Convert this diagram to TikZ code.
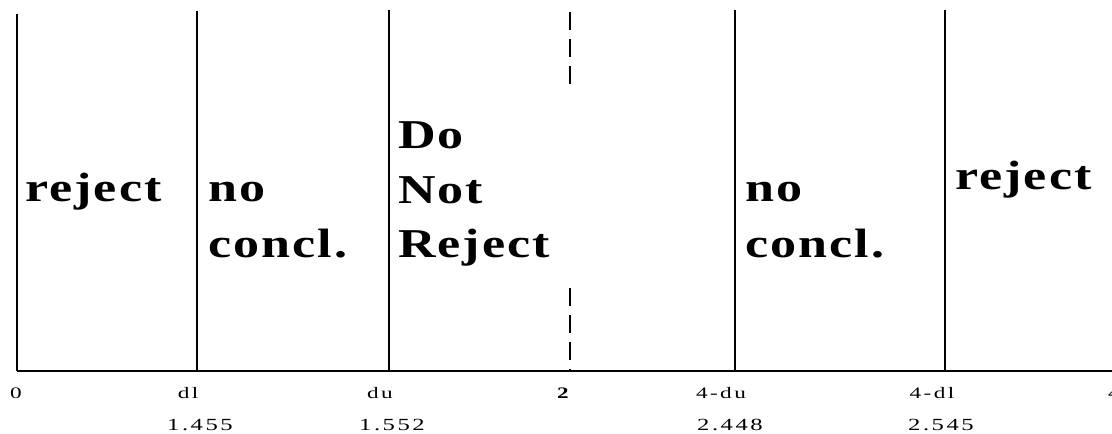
\documentclass[tikz,border=0pt]{standalone}
\usepackage{fontspec}
\setmainfont{Liberation Serif}
\newfontfamily\regionfont[FakeStretch=1.27,LetterSpace=5]{Liberation Serif}
\newfontfamily\tickfont[FakeStretch=1.45,LetterSpace=15]{Liberation Serif}
\begin{document}
\begin{tikzpicture}[x=1pt,y=-1pt,
  rule/.style={line width=1.8pt},
  midrule/.style={line width=1.8pt, dash pattern=on 18pt off 9pt},
  region/.style={anchor=base west, inner sep=0pt, font=\regionfont\bfseries\fontsize{41}{46}\selectfont},
  tick/.style={anchor=base, inner sep=0pt, font=\tickfont\fontsize{16}{19}\selectfont},
  val/.style={anchor=base, inner sep=0pt, font=\tickfont\fontsize{17}{20}\selectfont}]
\useasboundingbox (0,0) rectangle (1112,434);

% boundaries of the regions
\coordinate (t0) at (17,14);   \coordinate (b0) at (17,371);
\coordinate (t1) at (197,11);  \coordinate (b1) at (197,371);
\coordinate (t2) at (389,10);  \coordinate (b2) at (389,371);
\coordinate (m1) at (570,12);  \coordinate (m2) at (570,90);
\coordinate (m3) at (570,288); \coordinate (m4) at (570,371);
\coordinate (t3) at (735,10);  \coordinate (b3) at (735,371);
\coordinate (t4) at (945,10);  \coordinate (b4) at (945,371);
\coordinate (axisend) at (1112,371);

\draw[rule] (t0) -- (b0);
\draw[rule] (t1) -- (b1);
\draw[rule] (t2) -- (b2);
\draw[rule] (t3) -- (b3);
\draw[rule] (t4) -- (b4);
\draw[midrule] (m1) -- (m2);
\draw[midrule] (m3) -- (m4);
\draw[rule] (b0) -- (axisend);

% region labels
\node[region] (rejL) at (25,201) {reject};
\node[region] (noL) at (208,201) {no};
\node[region] (coL) at (208,257) {concl.};
\node[region] (do) at (398,148) {Do};
\node[region] (not) at (398,203) {Not};
\node[region] (rej) at (398,257) {Reject};
\node[region] (noR) at (745,201) {no};
\node[region] (coR) at (745,257) {concl.};
\node[region] (rejR) at (955,189) {reject};

% axis ticks
\node[tick] (x0) at (16,398) {0};
\node[tick] (xdl) at (188,398) {dl};
\node[tick] (xdu) at (380,398) {du};
\node[tick, font=\tickfont\bfseries\fontsize{16}{19}\selectfont] (x2) at (563,398) {2};
\node[tick] (xdu4) at (721,398) {4-du};
\node[tick] (xdl4) at (932,398) {4-dl};
\node[tick] (x4) at (1114,398) {4};

% critical values
\node[val] (v1) at (200,430) {1.455};
\node[val] (v2) at (392,430) {1.552};
\node[val] (v3) at (730,430) {2.448};
\node[val] (v4) at (941,430) {2.545};
\end{tikzpicture}
\end{document}
